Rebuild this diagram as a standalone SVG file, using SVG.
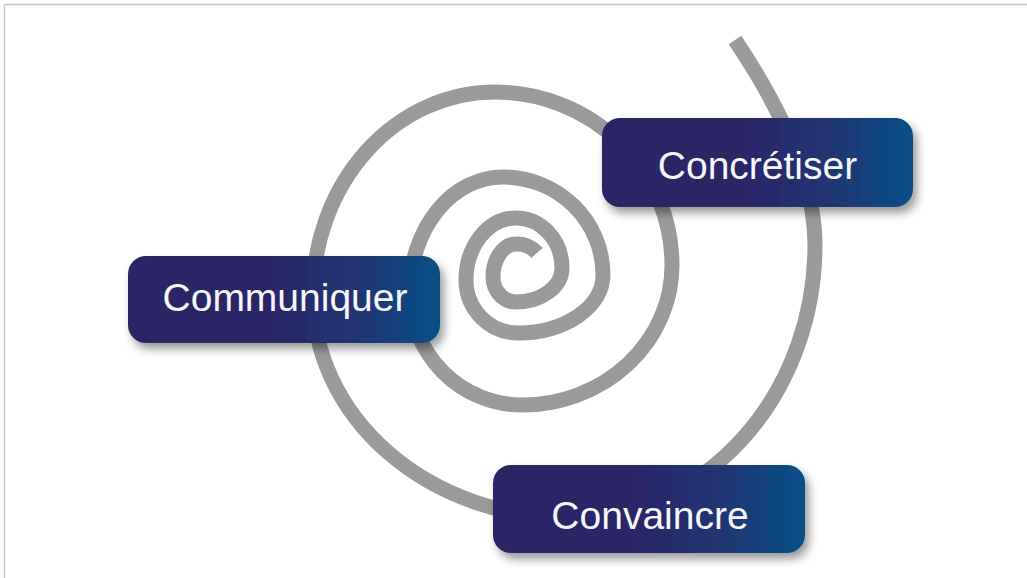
<svg xmlns="http://www.w3.org/2000/svg" width="1027" height="578" viewBox="0 0 1027 578">
  <style>
    .spiral { fill: none; stroke: #9a9a9a; stroke-width: 15; stroke-linecap: butt; }
    .box { fill: url(#boxGrad); filter: url(#shadow); }
    .label { font-family: "Liberation Sans", Arial, sans-serif; font-size: 39px; fill: #f5f5fa; text-anchor: middle; }
    .frame { stroke: #c4c4c4; stroke-width: 1.5; fill: none; }
  </style>
  <defs>
    <linearGradient id="boxGrad" x1="0" y1="0" x2="1" y2="0">
      <stop offset="0" stop-color="#2a2566"/>
      <stop offset="0.45" stop-color="#2a2566"/>
      <stop offset="0.75" stop-color="#1f3773"/>
      <stop offset="1" stop-color="#064f86"/>
    </linearGradient>
    <filter id="shadow" x="-10%" y="-20%" width="125%" height="160%">
      <feDropShadow dx="4" dy="6" stdDeviation="5" flood-color="#000" flood-opacity="0.4"/>
    </filter>
  </defs>
  <rect width="1027" height="578" fill="#ffffff"/>
  <g id="frame">
    <line class="frame" x1="4.5" y1="4.5" x2="1027" y2="4.5"/>
    <line class="frame" x1="4.5" y1="4.5" x2="4.5" y2="578"/>
  </g>
  <g id="connectors">
    <path class="spiral" d="M 735 40 C 774 98 815 175 815 245 A 245 273 0 0 1 570 518 A 257 223 0 0 1 313 295 A 182 203 0 0 1 495 92 A 177 173 0 0 1 672 265 A 150 140 0 0 1 522 405 A 112 113 0 0 1 410 292 A 93 115 0 0 1 503 177 A 100 98 0 0 1 603 275 A 85 58 0 0 1 518 333 A 52 53 0 0 1 466 280 A 50 62 0 0 1 516 218 A 46 50 0 0 1 562 268 A 46 34 0 0 1 516 302 A 23 25 0 0 1 493 277 A 23 33 0 0 1 516 244 A 26 26 0 0 1 537 253"/>
  </g>
  <g id="node-concretiser">
    <rect class="box" x="602" y="118" width="311" height="89" rx="18" ry="18"/>
    <text class="label" x="757.5" y="179">Concrétiser</text>
  </g>
  <g id="node-communiquer">
    <rect class="box" x="128" y="256" width="312" height="87" rx="18" ry="18"/>
    <text class="label" x="285" y="311">Communiquer</text>
  </g>
  <g id="node-convaincre">
    <rect class="box" x="493" y="465" width="312" height="88" rx="18" ry="18"/>
    <text class="label" x="650" y="529">Convaincre</text>
  </g>
</svg>
